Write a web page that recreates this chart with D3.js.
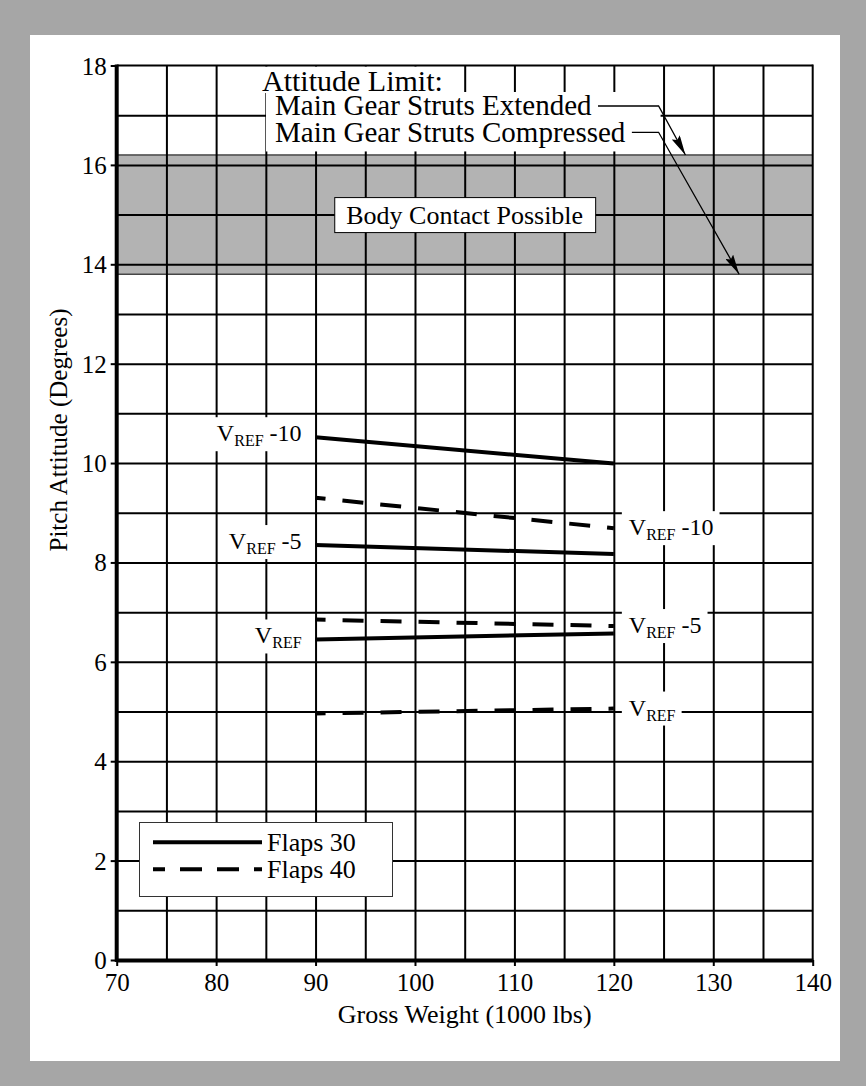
<!DOCTYPE html>
<html><head><meta charset="utf-8">
<script src="https://cdn.jsdelivr.net/npm/d3@7"></script>
<style>
body{margin:0;background:#a6a6a6}
svg{display:block}
text{font-family:"Liberation Serif","Times New Roman",Times,serif;fill:#000}
</style></head>
<body><svg id="c" width="866" height="1086"></svg>
<script>
// ---- data ----
const xTicks = [70, 80, 90, 100, 110, 120, 130, 140];
const yTicks = [0, 2, 4, 6, 8, 10, 12, 14, 16, 18];
const gridX = [75, 80, 85, 90, 95, 100, 105, 110, 115, 120, 125, 130, 135];
const gridY = [1, 2, 3, 4, 5, 6, 7, 8, 9, 10, 11, 12, 13, 14, 15, 16, 17];
const weights = [90, 120];
const speedSuffix = ["-10", "-5", ""];
const flaps30 = [[10.52, 9.99], [8.35, 8.17], [6.45, 6.57]];
const flaps40 = [[9.30, 8.69], [6.85, 6.72], [4.96, 5.06]];
const bodyContactBand = [13.8, 16.2];
const limitTips = [[127.2, 16.2], [132.6, 13.8]]; // extended, compressed
const legendNames = ["Flaps 30", "Flaps 40"];
const annotationLines = ["Attitude Limit:", "Main Gear Struts Extended", "Main Gear Struts Compressed"];

// ---- layout ----
const svg = d3.select("#c");
svg.append("rect").attr("width", 866).attr("height", 1086).attr("fill", "#a6a6a6");
svg.append("rect").attr("x", 30).attr("y", 35).attr("width", 810).attr("height", 1026).attr("fill", "#fff");

const x = d3.scaleLinear().domain([70, 140]).range([116.7, 812.7]);
const y = d3.scaleLinear().domain([0, 18]).range([960, 65.5]);
const W = x(140) - x(70), H = y(0) - y(18);

// band
svg.append("rect").attr("x", x(70)).attr("y", y(bodyContactBand[1]))
  .attr("width", W).attr("height", y(bodyContactBand[0]) - y(bodyContactBand[1]))
  .attr("fill", "#b3b3b3");
bodyContactBand.forEach(v => svg.append("line").attr("x1", x(70)).attr("x2", x(140))
  .attr("y1", y(v)).attr("y2", y(v)).attr("stroke", "#000").attr("stroke-width", 1));

// grid
const gx = svg.append("g").attr("transform", `translate(0,${y(0)})`)
  .call(d3.axisBottom(x).tickValues(gridX).tickSize(-H).tickFormat(""));
gx.select(".domain").remove();
gx.selectAll("line").attr("stroke", "#000").attr("stroke-width", 2);
const gy = svg.append("g").attr("transform", `translate(${x(70)},0)`)
  .call(d3.axisLeft(y).tickValues(gridY).tickSize(-W).tickFormat(""));
gy.select(".domain").remove();
gy.selectAll("line").attr("stroke", "#000").attr("stroke-width", 2);

// annotation text with white backgrounds
const ann = svg.append("g");
const bg1 = ann.append("rect").attr("fill", "#fff");
const bg2 = ann.append("rect").attr("fill", "#fff");
const t1 = ann.append("text").attr("x", 262).attr("y", 90.5).attr("font-size", 30).text(annotationLines[0]);
const t2 = ann.append("text").attr("x", 275).attr("y", 115).attr("font-size", 29).text(annotationLines[1]);
const t3 = ann.append("text").attr("x", 275).attr("y", 141.7).attr("font-size", 29).text(annotationLines[2]);
const b1 = t1.node().getBBox(), b2 = t2.node().getBBox(), b3 = t3.node().getBBox();
const bendX = x(124.5);
bg1.attr("x", b1.x - 4).attr("y", y(18) + 1).attr("width", b1.width + 14).attr("height", 92 - y(18));
bg2.attr("x", b2.x - 9).attr("y", 92).attr("width", bendX + 2 - (b2.x - 9)).attr("height", y(bodyContactBand[1]) - 3.5 - 92);

// axes
svg.append("line").attr("x1", x(70)).attr("x2", x(140)).attr("y1", y(18)).attr("y2", y(18)).attr("stroke", "#000").attr("stroke-width", 2);
svg.append("line").attr("x1", x(140)).attr("x2", x(140)).attr("y1", y(18) - 1).attr("y2", y(0)).attr("stroke", "#000").attr("stroke-width", 2);

const ax = svg.append("g").attr("transform", `translate(0,${y(0)})`)
  .call(d3.axisBottom(x).tickValues(xTicks).tickSize(6).tickSizeOuter(0).tickPadding(10));
ax.select(".domain").attr("stroke-width", 4).attr("stroke", "#000");
ax.selectAll(".tick line").attr("stroke-width", 2).attr("stroke", "#000");
ax.selectAll(".tick text").attr("font-size", 25).attr("font-family", null).attr("dy", null).attr("y", 30.7).attr("fill", "#000");

const ay = svg.append("g").attr("transform", `translate(${x(70)},0)`)
  .call(d3.axisLeft(y).tickValues(yTicks).tickSize(6).tickSizeOuter(0).tickPadding(8));
ay.select(".domain").attr("stroke-width", 4).attr("stroke", "#000").attr("d", `M0,${y(18) - 1}V${y(0) + 2}`);
ay.selectAll(".tick line").attr("stroke-width", 2).attr("stroke", "#000");
ay.selectAll(".tick text").attr("font-size", 25).attr("font-family", null).attr("x", -10).attr("dy", "0.34em").attr("fill", "#000");

// axis titles
svg.append("text").attr("x", (x(70) + x(140)) / 2).attr("y", 1023).attr("text-anchor", "middle")
  .attr("font-size", 26).text("Gross Weight (1000 lbs)");
svg.append("text").attr("transform", "translate(66.5,430) rotate(-90)").attr("text-anchor", "middle")
  .attr("font-size", 25).text("Pitch Attitude (Degrees)");

// labels
function vrefLabel(px, baseY, anchor, suffix) {
  const g = svg.append("g");
  const r = g.append("rect").attr("fill", "#fff");
  const t = g.append("text").attr("x", px).attr("y", baseY).attr("text-anchor", anchor).attr("font-size", 24);
  t.append("tspan").text("V");
  t.append("tspan").attr("font-size", 16).attr("dy", 5).text("REF");
  if (suffix) t.append("tspan").attr("dy", -5).text("\u00a0" + suffix);
  const b = t.node().getBBox();
  r.attr("x", b.x - 7).attr("y", b.y - 3).attr("width", b.width + 13).attr("height", b.height + 5);
}
flaps30.forEach((v, i) => vrefLabel(x(weights[0]) - 14, y(v[0]) + 4, "end", speedSuffix[i]));
flaps40.forEach((v, i) => vrefLabel(x(weights[1]) + 15, y(v[1]) + 7, "start", speedSuffix[i]));

// data lines
const line = d3.line().x((d, i) => x(weights[i])).y(d => y(d));
svg.append("g").selectAll("path").data(flaps30).join("path")
  .attr("d", d => line(d)).attr("fill", "none").attr("stroke", "#000").attr("stroke-width", 4);
svg.append("g").selectAll("path").data(flaps40).join("path")
  .attr("d", d => line(d)).attr("fill", "none").attr("stroke", "#000").attr("stroke-width", 4)
  .attr("stroke-dasharray", "21,17").attr("stroke-dashoffset", 11);

// body contact box
const bc = svg.append("g");
const bcr = bc.append("rect").attr("fill", "#fff").attr("stroke", "#000").attr("stroke-width", 1);
const bct = bc.append("text").attr("x", (x(70) + x(140)) / 2).attr("y", y(15) + 9)
  .attr("text-anchor", "middle").attr("font-size", 26).text("Body Contact Possible");
const bcb = bct.node().getBBox();
bcr.attr("x", bcb.x - 11.5).attr("y", bcb.y - 3).attr("width", bcb.width + 24).attr("height", bcb.height + 6);

// legend
const lg = svg.append("g");
lg.append("rect").attr("x", 139.5).attr("y", 822.5).attr("width", 253).attr("height", 74)
  .attr("fill", "#fff").attr("stroke", "#333").attr("stroke-width", 1);
legendNames.forEach((n, i) => {
  const ly = 842.3 + i * 27;
  const l = lg.append("line").attr("x1", 153).attr("x2", 262).attr("y1", ly).attr("y2", ly)
    .attr("stroke", "#000").attr("stroke-width", 4);
  if (i === 1) l.attr("stroke-dasharray", "22,15").attr("stroke-dashoffset", 10);
  lg.append("text").attr("x", 267).attr("y", ly + 8.5).attr("font-size", 26).text(n);
});

// leader lines with arrows
svg.append("defs").append("marker").attr("id", "ah").attr("markerUnits", "userSpaceOnUse")
  .attr("viewBox", "0 0 20 9").attr("refX", 20).attr("refY", 4.5)
  .attr("markerWidth", 20).attr("markerHeight", 9).attr("orient", "auto")
  .append("path").attr("d", "M0,0L20,4.5L0,9L3,4.5Z").attr("fill", "#000");
[[b2, 106], [b3, 132.3]].forEach(([b, ly], i) => {
  const tip = limitTips[i];
  svg.append("path")
    .attr("d", `M${b.x + b.width + 6},${ly}H${bendX}L${x(tip[0])},${y(tip[1])}`)
    .attr("fill", "none").attr("stroke", "#000").attr("stroke-width", 1.3)
    .attr("marker-end", "url(#ah)");
});
</script></body></html>
